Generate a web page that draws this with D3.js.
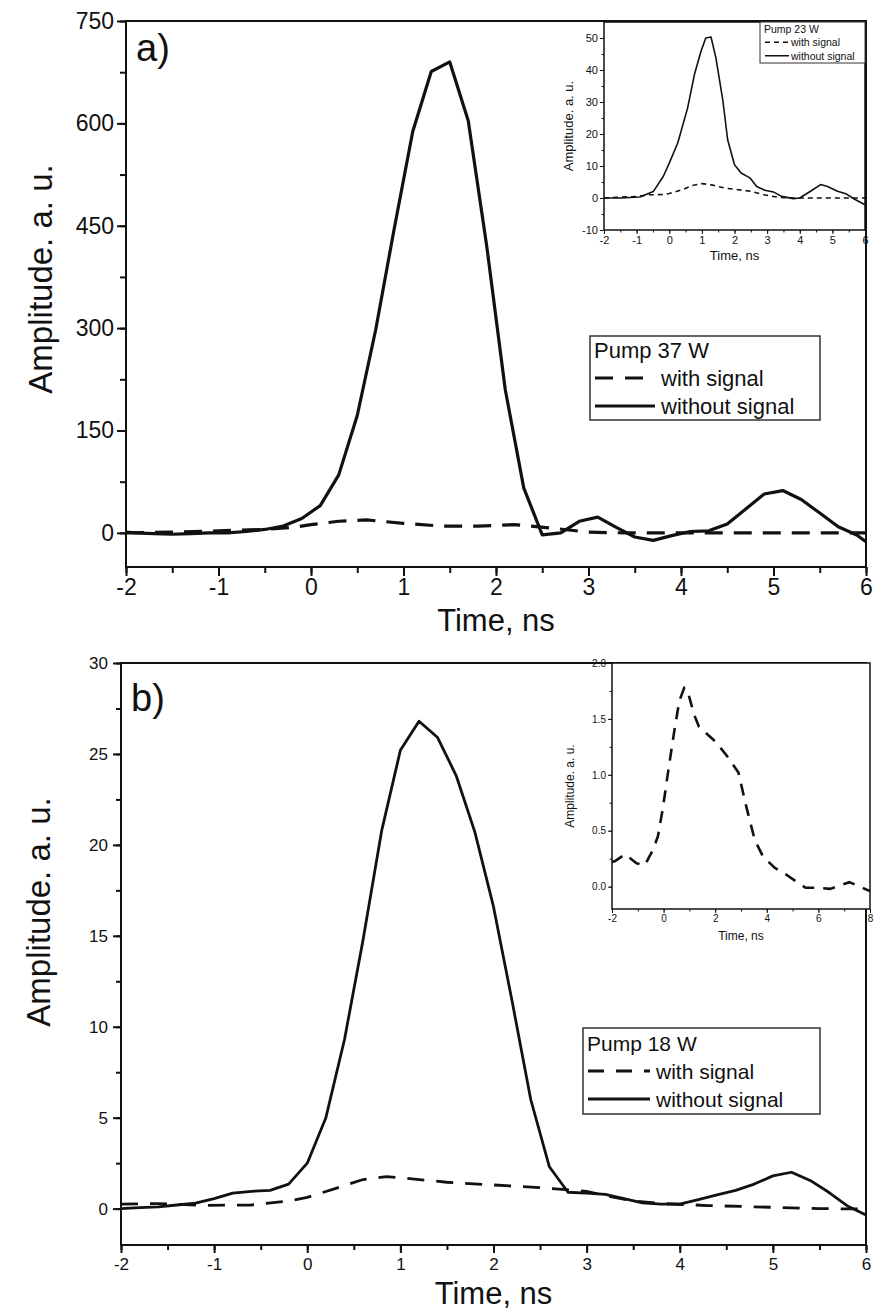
<!DOCTYPE html>
<html>
<head>
<meta charset="utf-8">
<script src="https://cdn.jsdelivr.net/npm/d3@7"></script>
<style>
  body { margin: 0; background: #fff; }
  svg { display: block; }
  text { font-family: "Liberation Sans", Arial, sans-serif; fill: #111; }
</style>
</head>
<body>
<div id="chart"></div>
<script>
// panel a) pump 37 W
const timeSolidA = [-2, -1.9, -1.7, -1.5, -1.3, -1.1, -0.9, -0.7, -0.5, -0.3, -0.1, 0.1, 0.3, 0.5, 0.7, 0.9, 1.1, 1.3, 1.5, 1.7, 1.9, 2.1, 2.3, 2.5, 2.7, 2.9, 3.1, 3.3, 3.5, 3.7, 3.9, 4.1, 4.3, 4.5, 4.7, 4.9, 5.1, 5.3, 5.5, 5.7, 5.9, 6.0]
const withoutSignalA = [1, 0, -1, -2, -1, 0, 0, 2, 5, 10, 21, 40, 85, 172, 298, 446, 588, 676, 690, 604, 420, 210, 66, -3, 0, 17, 23, 8, -6, -11, -4, 2, 3, 13, 35, 57, 62, 49, 29, 9, -3, -13]
const timeDashA = [-2, -1.5, -1, -0.5, -0.2, 0, 0.3, 0.6, 1.0, 1.4, 1.8, 2.2, 2.6, 3.0, 3.4, 4, 5, 6]
const withSignalA = [0, 1, 3, 5, 8, 12, 17, 19, 14, 10, 10, 12, 7, 1, 0, 0, 0, 0]

// inset of a) pump 23 W
const timeSolidInsetA = [-2, -1.5, -0.9, -0.49, -0.18, 0, 0.26, 0.56, 0.77, 0.97, 1.12, 1.28, 1.43, 1.64, 1.79, 2.0, 2.2, 2.47, 2.68, 2.93, 3.19, 3.44, 3.8, 4.0, 4.33, 4.64, 4.85, 5.16, 5.41, 5.67, 6.0]
const withoutSignalInsetA = [0, 0, 0.3, 2, 6.8, 10.9, 17.2, 28, 38.5, 45.8, 50, 50.3, 43.8, 30.7, 18.2, 10.4, 7.8, 6.3, 3.6, 2.4, 1.9, 0.5, -0.2, 0, 2.1, 4.2, 3.6, 2.1, 1.35, -0.3, -2.1]
const timeDashInsetA = [-2, -1, -0.6, -0.2, 0, 0.4, 0.7, 1.0, 1.3, 1.7, 2.1, 2.5, 2.9, 3.3, 3.7, 6]
const withSignalInsetA = [0, 0.5, 1.0, 1.1, 1.4, 2.6, 3.9, 4.5, 4.1, 3.1, 2.6, 2.1, 1.0, 0.3, 0, 0]

// panel b) pump 18 W
const timeSolidB = [-2, -1.8, -1.6, -1.4, -1.2, -1.0, -0.8, -0.6, -0.4, -0.2, 0, 0.2, 0.4, 0.6, 0.8, 1.0, 1.2, 1.4, 1.6, 1.8, 2.0, 2.2, 2.4, 2.6, 2.8, 3.0, 3.2, 3.4, 3.6, 3.8, 4.0, 4.2, 4.4, 4.6, 4.8, 5.0, 5.2, 5.4, 5.6, 5.8, 6.0]
const withoutSignalB = [0, 0.05, 0.1, 0.2, 0.3, 0.55, 0.85, 0.95, 1.0, 1.35, 2.5, 5.0, 9.3, 14.8, 20.8, 25.2, 26.8, 25.9, 23.8, 20.7, 16.6, 11.4, 6.0, 2.3, 0.9, 0.85, 0.78, 0.55, 0.32, 0.25, 0.25, 0.5, 0.75, 1.0, 1.35, 1.8, 2.0, 1.55, 0.9, 0.15, -0.35]
const timeDashB = [-2, -1.6, -1.1, -0.6, -0.2, 0.0, 0.3, 0.6, 0.85, 1.1, 1.5, 2.0, 2.5, 3.0, 3.2, 3.5, 3.85, 4.3, 4.8, 5.5, 6.0]
const withSignalB = [0.25, 0.28, 0.18, 0.2, 0.42, 0.62, 1.1, 1.6, 1.76, 1.65, 1.45, 1.3, 1.15, 0.95, 0.72, 0.42, 0.27, 0.17, 0.1, 0.0, -0.02]

// inset of b) with signal only
const timeInsetB = [-2, -1.87, -1.49, -1.05, -0.73, -0.41, -0.22, -0.03, 0.17, 0.42, 0.61, 0.8, 0.99, 1.18, 1.37, 2.0, 2.45, 2.9, 3.2, 3.53, 3.85, 4.3, 4.8, 5.5, 6.0, 6.46, 7.2, 8.0]
const withSignalInsetB = [0.22, 0.23, 0.29, 0.21, 0.19, 0.33, 0.45, 0.70, 1.02, 1.40, 1.66, 1.78, 1.70, 1.54, 1.43, 1.30, 1.17, 1.02, 0.72, 0.42, 0.27, 0.17, 0.10, -0.01, -0.01, -0.02, 0.04, -0.04]

const legendLabels = ["with signal", "without signal"]

const svg = d3.select("#chart").append("svg")
  .attr("width", 878)
  .attr("height", 1310)

const zip = (t, v) => t.map((d, i) => [d, v[i]])

function drawPanel(cfg) {
  const g = svg.append("g")
  const x = d3.scaleLinear().domain(cfg.xDomain).range([cfg.left, cfg.right])
  const y = d3.scaleLinear().domain(cfg.yDomain).range([cfg.bottom, cfg.top])

  if (cfg.fill) {
    g.append("rect")
      .attr("x", cfg.left).attr("y", cfg.top)
      .attr("width", cfg.right - cfg.left).attr("height", cfg.bottom - cfg.top)
      .attr("fill", "#fff")
  }

  // minor ticks
  g.append("g")
    .attr("transform", `translate(0,${cfg.bottom})`)
    .call(d3.axisBottom(x).tickValues(cfg.xMinor).tickSize(cfg.minorTick).tickFormat(""))
    .call(a => a.select(".domain").remove())
  g.append("g")
    .attr("transform", `translate(${cfg.left},0)`)
    .call(d3.axisLeft(y).tickValues(cfg.yMinor).tickSize(cfg.minorTick).tickFormat(""))
    .call(a => a.select(".domain").remove())

  // major ticks and labels
  const xAxis = g.append("g")
    .attr("transform", `translate(0,${cfg.bottom})`)
    .call(d3.axisBottom(x).tickValues(cfg.xTicks).tickSize(cfg.majorTick).tickSizeOuter(0)
      .tickPadding(cfg.tickPad).tickFormat(d => d))
  const yAxis = g.append("g")
    .attr("transform", `translate(${cfg.left},0)`)
    .call(d3.axisLeft(y).tickValues(cfg.yTicks).tickSize(cfg.majorTick).tickSizeOuter(0)
      .tickPadding(cfg.tickPad).tickFormat(cfg.yFormat))

  for (const a of [xAxis, yAxis]) {
    a.select(".domain").remove()
    a.selectAll("text")
      .style("font-size", cfg.tickFont + "px")
      .style("font-family", "'Liberation Sans', Arial, sans-serif")
      .attr("fill", "#111")
  }
  g.selectAll(".tick line").attr("stroke", "#111").attr("stroke-width", cfg.tickWidth)

  // frame
  g.append("rect")
    .attr("x", cfg.left).attr("y", cfg.top)
    .attr("width", cfg.right - cfg.left).attr("height", cfg.bottom - cfg.top)
    .attr("fill", "none").attr("stroke", "#111").attr("stroke-width", cfg.frameWidth)

  // curves
  const line = d3.line().x(d => x(d[0])).y(d => y(d[1]))
  for (const s of cfg.series) {
    g.append("path")
      .datum(zip(s.t, s.v))
      .attr("d", line)
      .attr("fill", "none")
      .attr("stroke", "#111")
      .attr("stroke-width", s.width)
      .attr("stroke-linejoin", "round")
      .attr("stroke-dasharray", s.dash || null)
  }

  // axis titles
  g.append("text")
    .attr("x", (cfg.left + cfg.right) / 2)
    .attr("y", cfg.xTitleY)
    .attr("text-anchor", "middle")
    .style("font-size", cfg.titleFont + "px")
    .text("Time, ns")
  g.append("text")
    .attr("transform", `translate(${cfg.yTitleX},${cfg.yTitleY}) rotate(-90)`)
    .attr("text-anchor", "middle")
    .style("font-size", (cfg.yTitleFont || cfg.titleFont) + "px")
    .text("Amplitude. a. u.")

  if (cfg.tag) {
    g.append("text")
      .attr("x", cfg.left + 10).attr("y", cfg.top + cfg.tagDy)
      .style("font-size", "38px")
      .text(cfg.tag)
  }

  if (cfg.legend) {
    const L = cfg.legend
    const lg = g.append("g")
    lg.append("rect")
      .attr("x", L.x).attr("y", L.y).attr("width", L.w).attr("height", L.h)
      .attr("fill", "#fff").attr("stroke", "#333").attr("stroke-width", L.stroke)
    lg.append("text")
      .attr("x", L.x + 4).attr("y", L.y + L.row * 0.5 + L.font * 0.36 + L.pad)
      .style("font-size", L.font + "px")
      .text(L.title)
    legendLabels.forEach((lab, i) => {
      const cy = L.y + L.pad + L.row * (i + 1.5)
      lg.append("line")
        .attr("x1", L.x + 5).attr("x2", L.x + 5 + L.sample)
        .attr("y1", cy).attr("y2", cy)
        .attr("stroke", "#111").attr("stroke-width", L.lineWidth)
        .attr("stroke-dasharray", i === 0 ? L.dash : null)
      lg.append("text")
        .attr("x", L.x + 5 + L.sample + L.gap).attr("y", cy + L.font * 0.36)
        .style("font-size", L.font + "px")
        .text(lab)
    })
  }
}

const halfSteps = (a, b, s) => d3.range(a, b + s / 2, s)

// panel a
drawPanel({
  left: 126, right: 866, top: 21, bottom: 567,
  xDomain: [-2, 6], yDomain: [-50, 750],
  xTicks: d3.range(-2, 7), xMinor: halfSteps(-2, 6, 0.5),
  yTicks: [0, 150, 300, 450, 600, 750], yMinor: halfSteps(0, 750, 75),
  yFormat: d => d,
  majorTick: 9, minorTick: 6, tickWidth: 2, tickPad: 3, tickFont: 23,
  frameWidth: 2, titleFont: 31, yTitleFont: 33, xTitleY: 631, yTitleX: 52, yTitleY: 279,
  tag: "a)", tagDy: 40,
  series: [
    { t: timeSolidA, v: withoutSignalA, width: 3.2 },
    { t: timeDashA, v: withSignalA, width: 3.2, dash: "18,11" }
  ],
  legend: { x: 590, y: 336, w: 230, h: 84, pad: 0, row: 28, font: 22, title: "Pump 37 W",
    sample: 60, gap: 6, lineWidth: 3.2, dash: "18,12", stroke: 1.5 }
})

// inset of a
drawPanel({
  left: 604, right: 865, top: 22, bottom: 230, fill: true,
  xDomain: [-2, 6], yDomain: [-10, 55],
  xTicks: d3.range(-2, 7), xMinor: halfSteps(-2, 6, 0.5),
  yTicks: d3.range(-10, 51, 10), yMinor: halfSteps(-10, 50, 5),
  yFormat: d => d,
  majorTick: 4, minorTick: 2.5, tickWidth: 1, tickPad: 2, tickFont: 11,
  frameWidth: 1.5, titleFont: 13, xTitleY: 260, yTitleX: 573, yTitleY: 126,
  series: [
    { t: timeSolidInsetA, v: withoutSignalInsetA, width: 1.6 },
    { t: timeDashInsetA, v: withSignalInsetA, width: 1.6, dash: "5,4" }
  ],
  legend: { x: 760, y: 22, w: 105, h: 41, pad: 0, row: 13.5, font: 10.5, title: "Pump 23 W",
    sample: 24, gap: 2, lineWidth: 1.5, dash: "5,4", stroke: 1 }
})

// panel b
drawPanel({
  left: 121, right: 866, top: 663, bottom: 1245,
  xDomain: [-2, 6], yDomain: [-2, 30],
  xTicks: d3.range(-2, 7), xMinor: halfSteps(-2, 6, 0.5),
  yTicks: d3.range(0, 31, 5), yMinor: halfSteps(0, 30, 2.5),
  yFormat: d => d,
  majorTick: 8, minorTick: 5, tickWidth: 2, tickPad: 5, tickFont: 17,
  frameWidth: 2, titleFont: 31, yTitleFont: 33, xTitleY: 1304, yTitleX: 50, yTitleY: 912,
  tag: "b)", tagDy: 48,
  series: [
    { t: timeSolidB, v: withoutSignalB, width: 2.8 },
    { t: timeDashB, v: withSignalB, width: 2.8, dash: "17,12" }
  ],
  legend: { x: 583, y: 1028, w: 237, h: 86, pad: 1, row: 28, font: 21, title: "Pump 18 W",
    sample: 62, gap: 6, lineWidth: 3, dash: "16,12", stroke: 1.5 }
})

// inset of b
drawPanel({
  left: 612, right: 870, top: 663, bottom: 909, fill: true,
  xDomain: [-2, 8], yDomain: [-0.2, 2.0],
  xTicks: d3.range(-2, 9, 2), xMinor: d3.range(-2, 9, 1),
  yTicks: [0, 0.5, 1.0, 1.5, 2.0], yMinor: halfSteps(0, 2, 0.25),
  yFormat: d3.format(".1f"),
  majorTick: 4, minorTick: 2.5, tickWidth: 1, tickPad: 2, tickFont: 10,
  frameWidth: 1.5, titleFont: 12, xTitleY: 940, yTitleX: 574, yTitleY: 786,
  series: [
    { t: timeInsetB, v: withSignalInsetB, width: 2.6, dash: "12,9" }
  ]
})
</script>
</body>
</html>
